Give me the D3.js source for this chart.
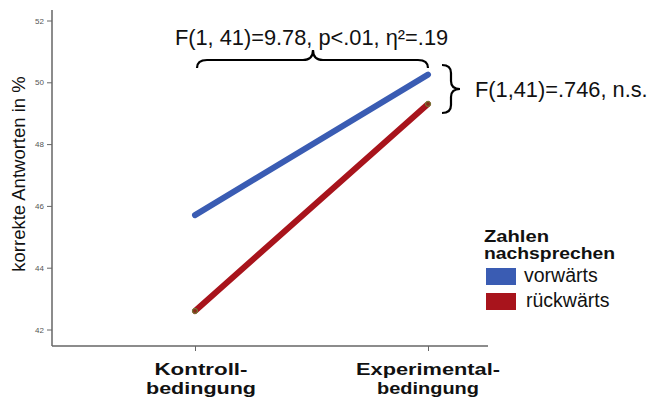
<!DOCTYPE html>
<html><head><meta charset="utf-8">
<script src="https://cdn.jsdelivr.net/npm/d3@7"></script>
<style>body{margin:0;background:#fff}svg{display:block}text{font-family:"Liberation Sans",Arial,sans-serif}</style>
</head><body><svg id="c" width="651" height="398"></svg>
<script>
const categories = ["Kontrollbedingung", "Experimentalbedingung"];
const categoryLabels = [["Kontroll-", "bedingung"], ["Experimental-", "bedingung"]];
const seriesNames = ["vorwärts", "rückwärts"];
const vorwaerts = [45.7, 50.25];
const rueckwaerts = [42.6, 49.3];
const yTicks = [42, 44, 46, 48, 50, 52];
const seriesColors = ["#3a5cb3", "#a8141c"];

const svg = d3.select("#c");
const x = d3.scalePoint().domain(categories).range([195, 428]);
const y = d3.scaleLinear().domain([42, 52]).range([329.5, 20.5]);

// axes
const yAxis = svg.append("g").attr("transform", "translate(52,0)")
  .call(d3.axisLeft(y).tickValues(yTicks).tickSize(5).tickPadding(3).tickFormat(d3.format("d")));
yAxis.select(".domain").attr("d", "M0,10V346").attr("stroke", "#666").attr("stroke-width", 1.5);
yAxis.selectAll(".tick line").attr("stroke", "#666");
yAxis.selectAll(".tick text").attr("fill", "#555").style("font-size", "8px");

const xAxis = svg.append("g").attr("transform", "translate(0,346)")
  .call(d3.axisBottom(x).tickSize(5).tickFormat(""));
xAxis.select(".domain").attr("d", "M52,0H488").attr("stroke", "#666").attr("stroke-width", 1.5);
xAxis.selectAll(".tick line").attr("stroke", "#666");

// label widths scale the glyphs a little wider, like the reference
function stretched(sel, w) {
  sel.attr("textLength", w).attr("lengthAdjust", "spacingAndGlyphs");
}
const labelWidths = [[93, 110], [144, 102]];
categories.forEach((c, i) => {
  const cx = x(c) + (i === 0 ? 6 : 0);
  categoryLabels[i].forEach((txt, j) => {
    const t = svg.append("text").attr("x", cx).attr("y", 374.5 + j * 19)
      .attr("text-anchor", "middle").style("font-size", "16.8px").style("font-weight", "bold")
      .attr("fill", "#111").text(txt);
    stretched(t, labelWidths[i][j]);
  });
});

svg.append("text").attr("transform", "translate(25,174) rotate(-90)")
  .attr("text-anchor", "middle").style("font-size", "18.5px").attr("fill", "#111")
  .text("korrekte Antworten in %");

// lines
const line = d3.line().x((d, i) => x(categories[i])).y(d => y(d));
[vorwaerts, rueckwaerts].forEach((s, k) => {
  svg.append("path").attr("d", line(s)).attr("fill", "none")
    .attr("stroke", seriesColors[k]).attr("stroke-width", 6).attr("stroke-linecap", "round");
});
rueckwaerts.forEach((v, i) => {
  svg.append("circle").attr("cx", x(categories[i])).attr("cy", y(v)).attr("r", 2.5)
    .attr("fill", "#8a2a1a").attr("stroke", "#6a8a3a").attr("stroke-width", 1);
});

// annotations
svg.append("text").attr("x", 311.5).attr("y", 45).attr("text-anchor", "middle")
  .style("font-size", "21.8px").attr("fill", "#111").text("F(1, 41)=9.78, p<.01, η²=.19");
svg.append("path").attr("fill", "none").attr("stroke", "#000").attr("stroke-width", 2.2)
  .attr("d", "M197,68 Q197,60 207,60 L303,60 Q313,60 313,50 Q313,60 323,60 L418,60 Q428,60 428,68");
svg.append("path").attr("fill", "none").attr("stroke", "#000").attr("stroke-width", 2.2)
  .attr("d", "M442,65 Q451,65 451,73 L451,81 Q451,89 460,89 Q451,89 451,97 L451,105 Q451,113 442,113");
svg.append("text").attr("x", 475).attr("y", 97)
  .style("font-size", "21.8px").attr("fill", "#111").text("F(1,41)=.746, n.s.");

// legend
const lg = svg.append("g");
const t1 = lg.append("text").attr("x", 484).attr("y", 242).style("font-size", "16.5px").style("font-weight", "bold")
  .attr("fill", "#111").text("Zahlen");
stretched(t1, 65);
const t2 = lg.append("text").attr("x", 484).attr("y", 258.5).style("font-size", "16.5px").style("font-weight", "bold")
  .attr("fill", "#111").text("nachsprechen");
stretched(t2, 131);
seriesNames.forEach((n, i) => {
  lg.append("rect").attr("x", 486).attr("y", 268 + i * 25).attr("width", 30).attr("height", 17)
    .attr("fill", seriesColors[i]);
  lg.append("text").attr("x", 524 + i * 2).attr("y", 282 + i * 25).style("font-size", "19.5px")
    .attr("fill", "#111").text(n);
});
</script></body></html>
